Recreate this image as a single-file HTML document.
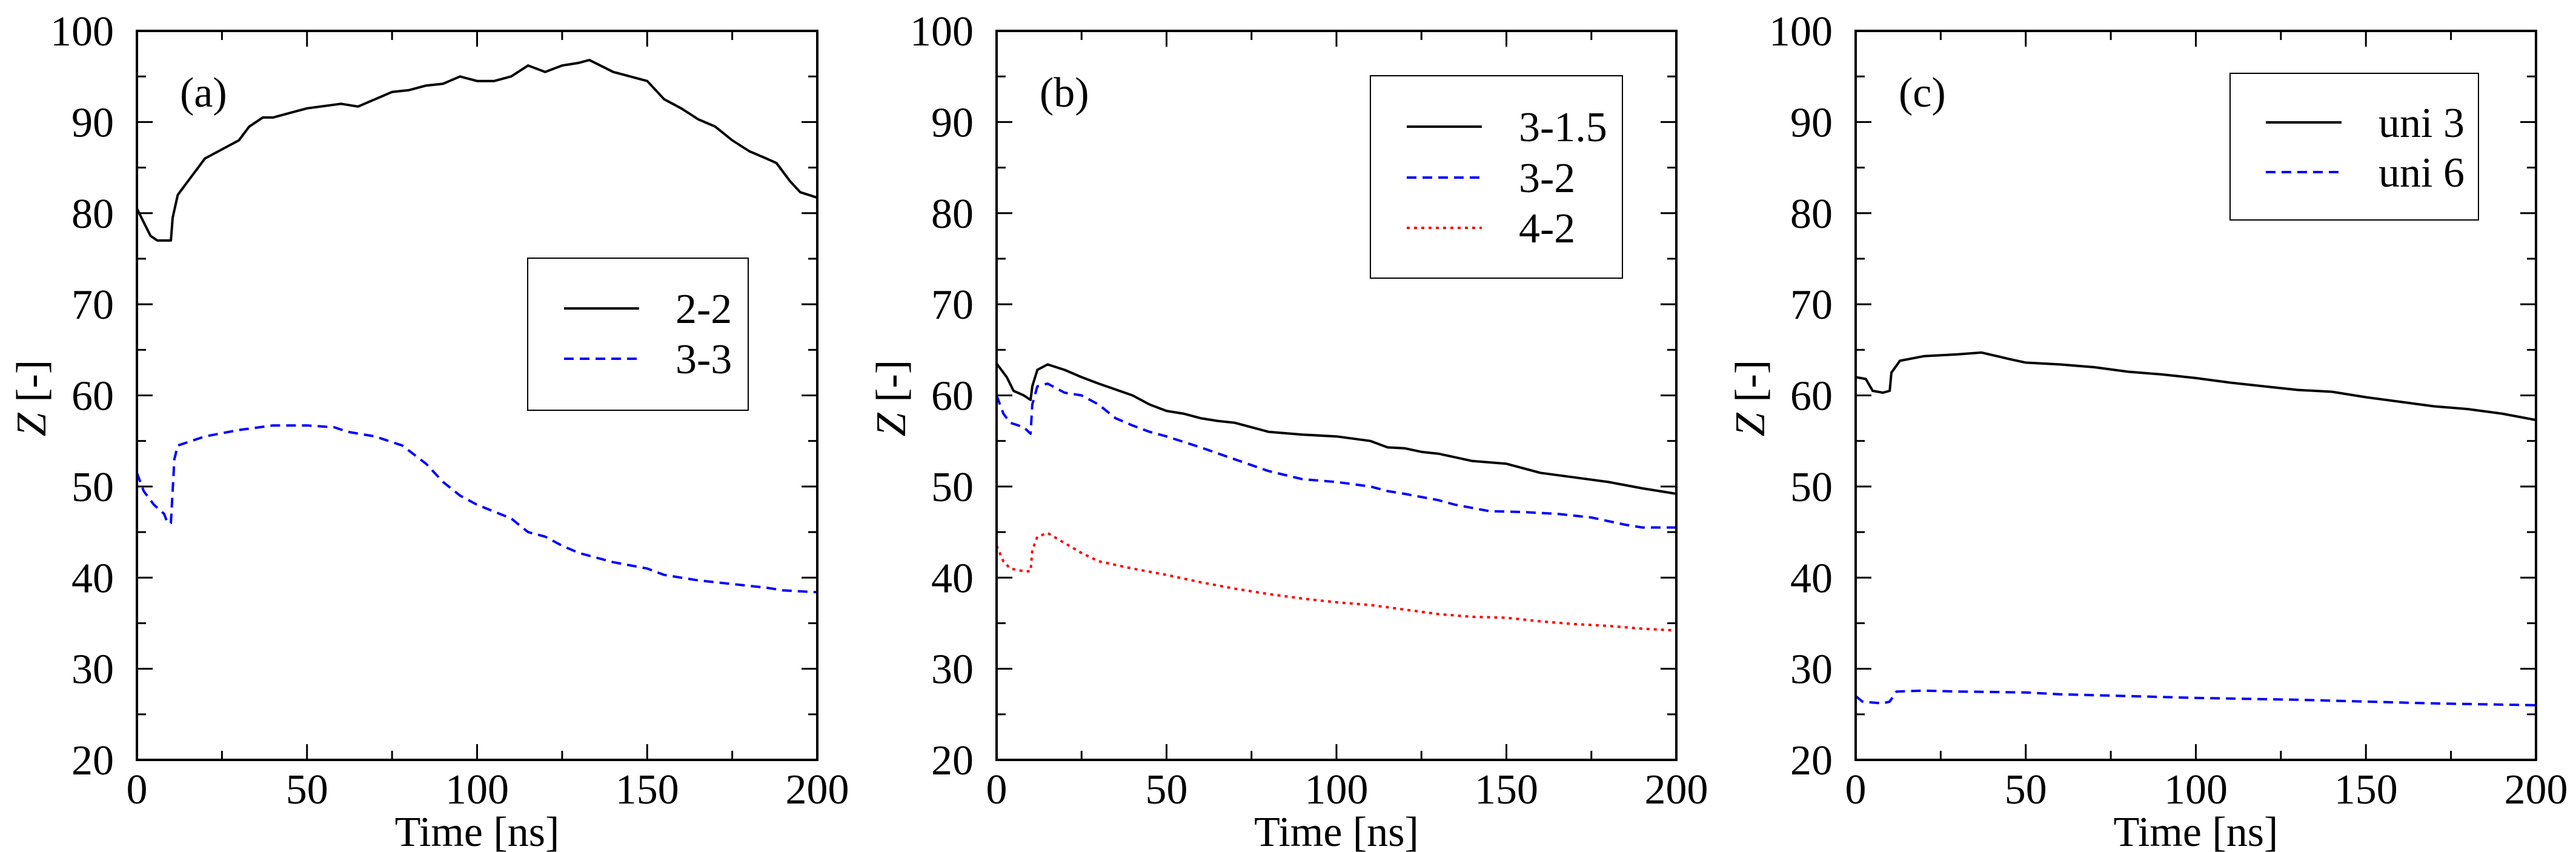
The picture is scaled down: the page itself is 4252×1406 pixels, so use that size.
<!DOCTYPE html>
<html><head><meta charset="utf-8"><style>
html,body{margin:0;padding:0;background:#fff}
svg{display:block}
text{font-family:"Liberation Serif",serif;fill:#000}
</style></head><body>
<svg id="chart" width="4252" height="1406" viewBox="0 0 4252 1406" xmlns="http://www.w3.org/2000/svg"></svg>
<script>
const xTicks=[0,50,100,150,200];
const yTicks=[20,30,40,50,60,70,80,90,100];
// panel a
const tA=[0,2,4,6,8,10,10.5,12,15,18,20,25,30,33,37,40,45,50,60,65,70,75,80,85,90,95,100,105,110,115,120,125,130,133,140,145,150,155,160,165,170,175,180,185,188,192,195,200];
const a22=[80.5,79,77.5,77,77,77,79.5,82,83.5,85,86,87,88,89.5,90.5,90.5,91,91.5,92,91.7,92.5,93.3,93.5,94,94.2,95,94.5,94.5,95,96.2,95.5,96.2,96.5,96.8,95.5,95,94.5,92.5,91.5,90.3,89.5,88,86.8,86,85.5,83.5,82.3,81.7];
const tA3=[0,2,5,8,9,10,11,12,20,30,40,50,58,62,70,78,85,90,95,100,110,115,120,125,130,140,150,155,165,175,185,190,200];
const a33=[51.5,49.5,48,47,46,46,53,54.5,55.5,56.2,56.7,56.7,56.5,56,55.5,54.5,52.5,50.5,49,48,46.5,45,44.5,43.5,42.7,41.7,41,40.3,39.7,39.3,38.9,38.6,38.4];
// panel b
const tB1=[0,3,5,8,10,10.5,12,15,20,25,30,40,45,50,55,60,65,70,75,80,90,100,110,115,120,125,130,140,150,160,170,180,190,200];
const b315=[63.5,62,60.5,60,59.5,61,62.8,63.4,62.8,62,61.3,60,59,58.3,58,57.5,57.2,57,56.5,56,55.7,55.5,55,54.3,54.2,53.8,53.6,52.8,52.5,51.5,51,50.5,49.8,49.2];
const tB2=[0,2,4,8,10,10.5,12,15,20,25,30,35,40,45,50,60,70,80,90,100,110,115,120,130,135,145,155,165,175,185,190,200];
const b32=[60,58,57,56.5,55.8,59,61,61.3,60.3,60,59,57.5,56.7,56,55.5,54.3,53,51.7,50.8,50.5,50,49.5,49.2,48.5,48,47.3,47.2,47,46.6,45.8,45.5,45.5];
const tB3=[0,2,4,8,10,10.5,12,15,20,25,30,40,50,60,70,80,90,100,110,120,130,140,150,160,170,180,190,200];
const b42=[43.5,41.8,41,40.7,40.7,43,44.5,44.9,43.8,42.7,41.8,41,40.3,39.5,38.8,38.2,37.7,37.3,37,36.5,36,35.7,35.6,35.2,34.9,34.7,34.4,34.2];
// panel c
const tC1=[0,3,5,8,10,10.5,13,20,30,37,45,50,60,70,80,90,100,110,120,130,140,150,160,170,180,190,200];
const cu3=[62,61.8,60.5,60.3,60.5,62.5,63.8,64.3,64.5,64.7,64,63.6,63.4,63.1,62.6,62.3,61.9,61.4,61,60.6,60.4,59.8,59.3,58.8,58.5,58,57.3];
const tC2=[0,2,8,10,12,20,30,50,60,80,100,130,150,170,200];
const cu6=[27,26.4,26.2,26.4,27.5,27.6,27.5,27.4,27.2,27,26.8,26.6,26.4,26.2,26];

const NS="http://www.w3.org/2000/svg";
const svg=document.getElementById('chart');
function mk(tag,attrs,parent){const e=document.createElementNS(NS,tag);for(const k in attrs)e.setAttribute(k,attrs[k]);(parent||svg).appendChild(e);return e;}
const TOP=51,BOT=1254;
const panels=[
 {id:'a',left:226,right:1349,label:'(a)',series:[{t:tA,v:a22,name:'2-2',color:'#000',dash:''},{t:tA3,v:a33,name:'3-3',color:'#0000ff',dash:'16,10'}],
  leg:{x:871,y:426,w:364,h:251,rows:[509,592],lx1:931,lx2:1055,tx:1115}},
 {id:'b',left:1645,right:2767,label:'(b)',series:[{t:tB1,v:b315,name:'3-1.5',color:'#000',dash:''},{t:tB2,v:b32,name:'3-2',color:'#0000ff',dash:'16,10'},{t:tB3,v:b42,name:'4-2',color:'#ff0000',dash:'5,7'}],
  leg:{x:2262,y:125,w:416,h:334,rows:[209,293,376],lx1:2322,lx2:2446,tx:2507}},
 {id:'c',left:3063,right:4186,label:'(c)',series:[{t:tC1,v:cu3,name:'uni 3',color:'#000',dash:''},{t:tC2,v:cu6,name:'uni 6',color:'#0000ff',dash:'16,10'}],
  leg:{x:3681,y:121,w:410,h:242,rows:[202,284],lx1:3740,lx2:3865,tx:3926}}
];
panels.forEach(p=>{
  const g=mk('g',{});
  
  
  const X=v=>p.left+(v-0)/200*(p.right-p.left);
  const Y=v=>BOT-(v-20)/80*(BOT-TOP);
  // ticks
  for(let v=0;v<=200;v+=25){const major=v%50===0,L=major?26:15,x=X(v);
    const t1=mk('line',{x1:x,y1:BOT,x2:x,y2:BOT-L,stroke:'#000','stroke-width':3},g);
    
    mk('line',{x1:x,y1:TOP,x2:x,y2:TOP+L,stroke:'#000','stroke-width':3},g);}
  for(let v=20;v<=100;v+=5){const major=v%10===0,L=major?26:15,y=Y(v);
    const t1=mk('line',{x1:p.left,y1:y,x2:p.left+L,y2:y,stroke:'#000','stroke-width':3},g);
    
    mk('line',{x1:p.right,y1:y,x2:p.right-L,y2:y,stroke:'#000','stroke-width':3},g);}
  xTicks.forEach(v=>{const t=mk('text',{x:X(v),y:1326,'font-size':70,'text-anchor':'middle'},g);t.textContent=v;
    });
  yTicks.forEach(v=>{const t=mk('text',{x:p.left-38,y:Y(v)+24,'font-size':70,'text-anchor':'end'},g);t.textContent=v;
    });
  const xt=mk('text',{x:(p.left+p.right)/2,y:1396,'font-size':70,'text-anchor':'middle'},g);xt.textContent='Time [ns]';
  
  const cy=657,cx=p.left-175;
  const yt=mk('text',{x:cx,y:cy,'font-size':70,'text-anchor':'middle',transform:`rotate(-90 ${cx} ${cy})`,dy:24},g);
  yt.innerHTML='<tspan font-style="italic">Z</tspan> [-]';
  
  const lb=mk('text',{x:p.left+71,y:176,'font-size':70},g);lb.textContent=p.label;
  
  // series
  p.series.forEach(s=>{
    const d=s.t.map((t,i)=>(i?'L':'M')+X(t).toFixed(1)+','+Y(s.v[i]).toFixed(1)).join(' ');
    const pa=mk('path',{d:d,fill:'none',stroke:s.color,'stroke-width':4,'stroke-dasharray':s.dash,'stroke-linejoin':'round'},g);
    
    
  });
  const fr=mk('rect',{x:p.left,y:TOP,width:p.right-p.left,height:BOT-TOP,fill:'none',stroke:'#000','stroke-width':4},g);
  
  // legend
  const lg=mk('g',{},g);
  
  mk('rect',{x:p.leg.x,y:p.leg.y,width:p.leg.w,height:p.leg.h,fill:'#fff',stroke:'#000','stroke-width':2},lg);
  p.series.forEach((s,i)=>{const y=p.leg.rows[i];
    const le=mk('g',{},lg);
    
    mk('line',{x1:p.leg.lx1,y1:y,x2:p.leg.lx2,y2:y,stroke:s.color,'stroke-width':4,'stroke-dasharray':s.dash},le);
    const t=mk('text',{x:p.leg.tx,y:y+24,'font-size':70},le);t.textContent=s.name;});
});
</script>
</body></html>
